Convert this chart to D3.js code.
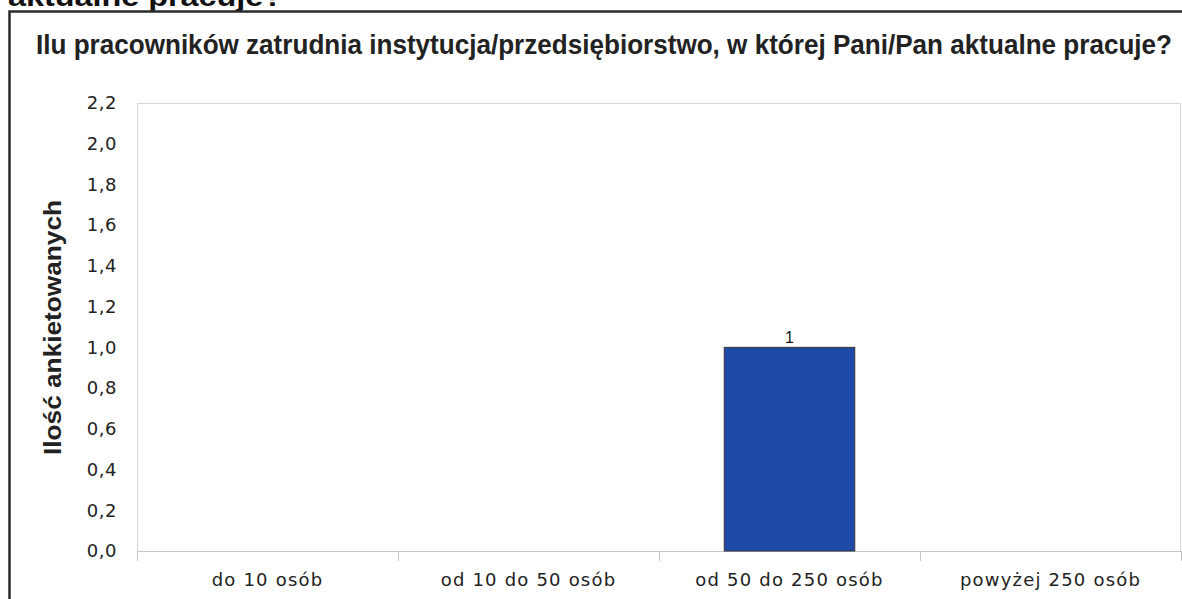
<!DOCTYPE html>
<html>
<head>
<meta charset="utf-8">
<script src="https://cdn.jsdelivr.net/npm/d3@7"></script>
<style>
  html, body { margin: 0; padding: 0; background: #fff; }
  svg { display: block; }
</style>
</head>
<body>
<svg id="chart" width="1182" height="599"></svg>
<script>
// Survey answers: company size of the current employer
const categories = ["do 10 osób", "od 10 do 50 osób", "od 50 do 250 osób", "powyżej 250 osób"];
const counts = [0, 0, 1, 0];
const yTicks = [0, 0.2, 0.4, 0.6, 0.8, 1.0, 1.2, 1.4, 1.6, 1.8, 2.0, 2.2];
const title = "Ilu pracowników zatrudnia instytucja/przedsiębiorstwo, w której Pani/Pan aktualne pracuje?";
const headingTail = "aktualne pracuje?";
const yTitle = "Ilość ankietowanych";

const svg = d3.select("#chart");
const W = 1182, H = 599;
const plot = { left: 137, top: 103, right: 1181, bottom: 551 };

// tail of the section heading above the figure
svg.append("text")
  .attr("x", 8).attr("y", 6)
  .attr("font-family", "Liberation Sans, Arial, sans-serif")
  .attr("font-weight", "bold")
  .attr("font-size", 28)
  .attr("fill", "#111")
  .attr("textLength", 275)
  .attr("lengthAdjust", "spacingAndGlyphs")
  .text(headingTail);

// outer chart frame
svg.append("rect")
  .attr("x", 9.5).attr("y", 11.5)
  .attr("width", W + 10).attr("height", H + 10)
  .attr("fill", "none")
  .attr("stroke", "#2a2a2a")
  .attr("stroke-width", 2.5);

// chart title (slightly tall, narrow lettering)
const titleSize = 25;
const titleText = svg.append("text")
  .attr("transform", "translate(36,54) scale(1,1.12)")
  .attr("font-family", "Liberation Sans, Arial, sans-serif")
  .attr("font-weight", "bold")
  .attr("font-size", titleSize)
  .attr("fill", "#222")
  .text(title);
const natural = titleText.node().getComputedTextLength();
if (natural > 1136) titleText.attr("font-size", titleSize * 1136 / natural);
else titleText.attr("textLength", 1136).attr("lengthAdjust", "spacingAndGlyphs");

const x = d3.scaleBand()
  .domain(categories)
  .range([plot.left, plot.right])
  .paddingInner(0.5)
  .paddingOuter(0.25);

const y = d3.scaleLinear()
  .domain([0, 2.2])
  .range([plot.bottom, plot.top]);

const fmt = v => d3.format(".1f")(v).replace(".", ",");

// plot area border
svg.append("rect")
  .attr("x", plot.left + 0.5).attr("y", plot.top + 0.5)
  .attr("width", plot.right - plot.left - 1)
  .attr("height", plot.bottom - plot.top)
  .attr("fill", "none")
  .attr("stroke", "#d4d6de")
  .attr("stroke-width", 1);

// y axis labels
const yAxis = d3.axisLeft(y).tickValues(yTicks).tickFormat(fmt).tickSize(0).tickPadding(20);
const gy = svg.append("g").attr("transform", `translate(${plot.left},0)`).call(yAxis);
gy.select(".domain").remove();
gy.selectAll("text")
  .attr("font-family", "DejaVu Sans, Verdana, sans-serif")
  .attr("font-size", 18)
  .attr("letter-spacing", 0.5)
  .attr("fill", "#222");

// x axis: category separators and labels
const step = x.step();
const edges = d3.range(categories.length + 1).map(i => plot.left + i * step);
svg.append("line")
  .attr("x1", plot.left).attr("x2", plot.right)
  .attr("y1", plot.bottom + 0.5).attr("y2", plot.bottom + 0.5)
  .attr("stroke", "#c4c6ce");
svg.selectAll("line.sep").data(edges).join("line")
  .attr("class", "sep")
  .attr("x1", d => Math.round(d) + 0.5).attr("x2", d => Math.round(d) + 0.5)
  .attr("y1", plot.bottom).attr("y2", plot.bottom + 10)
  .attr("stroke", "#c4c6ce");

svg.selectAll("text.xlab").data(categories).join("text")
  .attr("class", "xlab")
  .attr("x", d => x(d) + x.bandwidth() / 2)
  .attr("y", 586)
  .attr("text-anchor", "middle")
  .attr("font-family", "DejaVu Sans, Verdana, sans-serif")
  .attr("font-size", 18)
  .attr("letter-spacing", 1.2)
  .attr("fill", "#222")
  .text(d => d);

// bars
const data = categories.map((c, i) => ({ c, v: counts[i] }));
svg.selectAll("rect.bar").data(data.filter(d => d.v > 0)).join("rect")
  .attr("class", "bar")
  .attr("x", d => x(d.c))
  .attr("y", d => y(d.v))
  .attr("width", x.bandwidth())
  .attr("height", d => y(0) - y(d.v))
  .attr("fill", "#1d4aa6")
  .attr("stroke", "#333")
  .attr("stroke-width", 1);

// value labels
svg.selectAll("text.val").data(data.filter(d => d.v > 0)).join("text")
  .attr("class", "val")
  .attr("x", d => x(d.c) + x.bandwidth() / 2)
  .attr("y", d => y(d.v) - 4)
  .attr("text-anchor", "middle")
  .attr("font-family", "Liberation Sans, Arial, sans-serif")
  .attr("font-size", 16)
  .attr("fill", "#111")
  .text(d => d.v);

// y axis title
svg.append("text")
  .attr("transform", `translate(61,${(200 + 455) / 2}) rotate(-90)`)
  .attr("text-anchor", "middle")
  .attr("font-family", "Liberation Sans, Arial, sans-serif")
  .attr("font-weight", "bold")
  .attr("font-size", 23)
  .attr("fill", "#222")
  .attr("textLength", 255)
  .attr("lengthAdjust", "spacingAndGlyphs")
  .text(yTitle);
</script>
</body>
</html>
